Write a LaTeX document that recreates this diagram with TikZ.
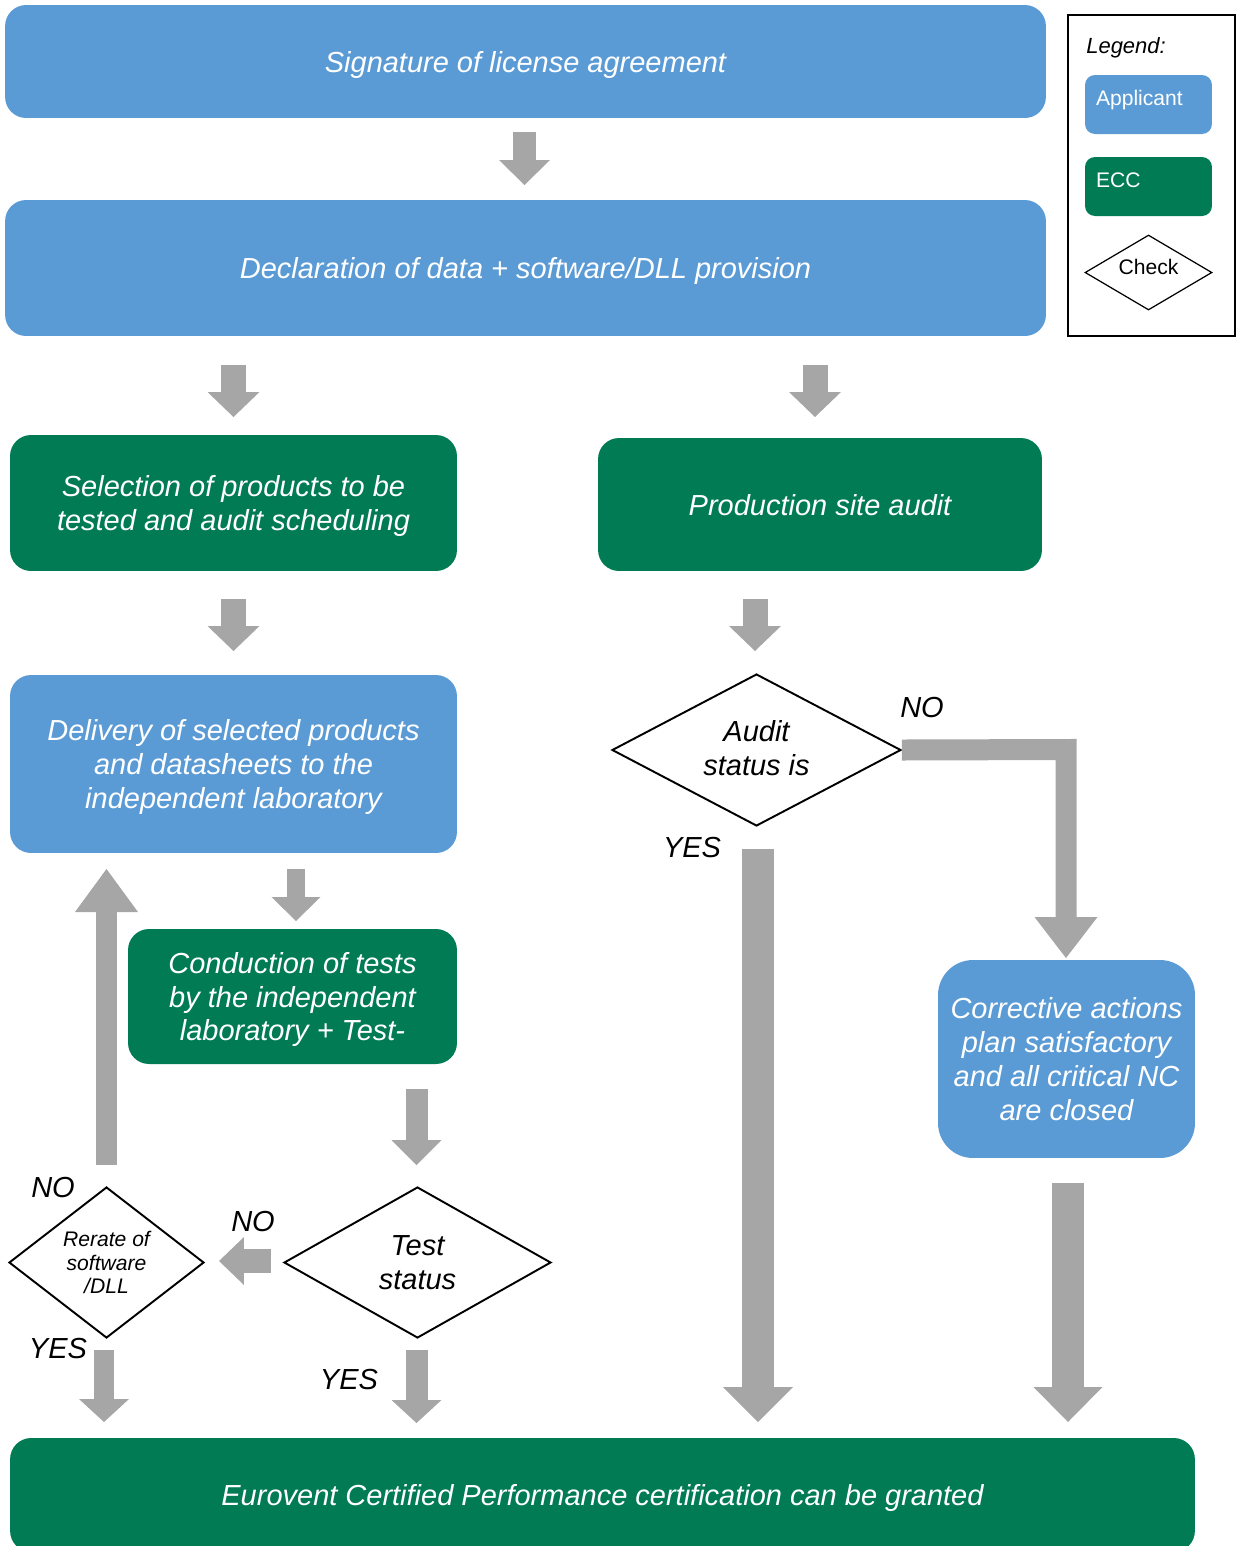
\documentclass[tikz,border=0pt]{standalone}
\usepackage{fontspec}
\setmainfont{Liberation Sans}
\usetikzlibrary{shapes.geometric,arrows.meta}
\definecolor{appblue}{RGB}{91,155,213}
\definecolor{eccgreen}{RGB}{0,123,84}
\definecolor{arrowgray}{RGB}{166,166,166}
\tikzset{
  mainfont/.style={font=\fontsize{16.5}{19.3}\selectfont\itshape},
  procbox/.style={rounded corners=0.42cm, inner sep=0pt, align=center, text=white, mainfont, text depth=0pt},
  appbox/.style={procbox, fill=appblue},
  eccbox/.style={procbox, fill=eccgreen},
  checkshape/.style={diamond, draw=black, line width=1.1pt, fill=white, inner sep=0pt, align=center, mainfont},
  answer/.style={inner sep=0pt, mainfont},
  legfont/.style={font=\fontsize{12}{14}\selectfont},
  legbox/.style={rounded corners=0.2cm, inner sep=0pt, inner xsep=0.22cm, text=white, legfont,
    minimum width=2.54cm, minimum height=1.18cm, text width=2.1cm, align=left, text height=0.32cm, text depth=0.3cm},
  blk/.style n args={3}{draw=arrowgray, line cap=butt, line join=miter, line width=#1,
    -{Triangle[width=#2, length=#3, line width=0pt]}},
}
\begin{document}
\begin{tikzpicture}[x=0.02cm, y=-0.02cm]
\path[use as bounding box, clip] (0,0) rectangle (1237,1546);

% process boxes
\node[appbox, minimum width=20.82cm, minimum height=2.26cm] (sig) at (525.5,61.5) {Signature of license agreement};
\node[appbox, minimum width=20.82cm, minimum height=2.72cm] (decl) at (525.5,268) {Declaration of data + software/DLL provision};
\node[eccbox, minimum width=8.94cm, minimum height=2.72cm] (sel) at (233.5,503) {Selection of products to be\\tested and audit scheduling};
\node[eccbox, minimum width=8.88cm, minimum height=2.66cm] (prod) at (820,504.5) {Production site audit};
\node[appbox, minimum width=8.94cm, minimum height=3.56cm] (deliv) at (233.5,764) {Delivery of selected products\\and datasheets to the\\independent laboratory};
\node[eccbox, minimum width=6.58cm, minimum height=2.7cm] (cond) at (292.5,996.5) {Conduction of tests\\by the independent\\laboratory + Test-};
\node[appbox, rounded corners=0.7cm, minimum width=5.14cm, minimum height=3.96cm] (corr) at (1066.5,1059) {Corrective actions\\plan satisfactory\\and all critical NC\\are closed};
\node[eccbox, minimum width=23.7cm, minimum height=2.28cm] (eur) at (602.5,1495) {Eurovent Certified Performance certification can be granted};

% checks
\node[checkshape, inner sep=-0.3cm, minimum width=5.78cm, minimum height=3.04cm, text depth=0.08cm] (audit) at (756.5,750) {Audit\\status is};
\node[checkshape, minimum width=5.34cm, minimum height=3.02cm] (test) at (417.5,1262.5) {Test\\status};
\node[checkshape, font=\fontsize{12}{13.6}\selectfont\itshape, minimum width=3.9cm, minimum height=3.02cm] (rerate) at (106.5,1262.5) {Rerate of\\software\\/DLL};

% answers
\node[answer] (noaudit) at (922,708) {NO};
\node[answer] (yesaudit) at (692,848) {YES};
\node[answer] (norerate) at (53,1188) {NO};
\node[answer] (notest) at (253,1222) {NO};
\node[answer] (yesrerate) at (58,1349) {YES};
\node[answer] (yestest) at (349,1380) {YES};

% block arrows
\coordinate (a1s) at (524.5,132); \coordinate (a1e) at (524.5,185);
\draw[blk={0.46cm}{1.02cm}{0.5cm}] (a1s) -- (a1e);
\coordinate (a2s) at (233.5,365); \coordinate (a2e) at (233.5,417);
\draw[blk={0.5cm}{1.04cm}{0.5cm}] (a2s) -- (a2e);
\coordinate (a3s) at (815,365); \coordinate (a3e) at (815,417);
\draw[blk={0.5cm}{1.04cm}{0.5cm}] (a3s) -- (a3e);
\coordinate (a4s) at (233.5,599); \coordinate (a4e) at (233.5,651);
\draw[blk={0.5cm}{1.04cm}{0.5cm}] (a4s) -- (a4e);
\coordinate (a5s) at (755,599); \coordinate (a5e) at (755,651);
\draw[blk={0.5cm}{1.04cm}{0.5cm}] (a5s) -- (a5e);
\coordinate (a6s) at (296,869); \coordinate (a6e) at (296,921);
\draw[blk={0.36cm}{0.98cm}{0.48cm}] (a6s) -- (a6e);
\coordinate (a7s) at (416.5,1089); \coordinate (a7e) at (416.5,1165);
\draw[blk={0.44cm}{1.0cm}{0.5cm}] (a7s) -- (a7e);
\coordinate (a8s) at (416.5,1350); \coordinate (a8e) at (416.5,1423);
\draw[blk={0.44cm}{1.0cm}{0.46cm}] (a8s) -- (a8e);
\coordinate (a9s) at (104,1350); \coordinate (a9e) at (104,1422);
\draw[blk={0.4cm}{1.0cm}{0.46cm}] (a9s) -- (a9e);
\coordinate (a10s) at (271,1261); \coordinate (a10e) at (219,1261);
\draw[blk={0.48cm}{0.96cm}{0.5cm}] (a10s) -- (a10e);
\coordinate (a11s) at (106.5,1165); \coordinate (a11e) at (106.5,869);
\draw[blk={0.44cm}{1.26cm}{0.86cm}] (a11s) -- (a11e);
\coordinate (a12s) at (758,849); \coordinate (a12e) at (758,1422);
\draw[blk={0.64cm}{1.4cm}{0.7cm}] (a12s) -- (a12e);
\coordinate (a13m) at (1066,749.5); \coordinate (a13e) at (1066,958);
\draw[blk={0.42cm}{1.26cm}{0.82cm}] (audit.east) -- (a13m) -- (a13e);
\coordinate (a14s) at (1068,1183); \coordinate (a14e) at (1068,1422);
\draw[blk={0.64cm}{1.38cm}{0.7cm}] (a14s) -- (a14e);

% legend
\node[draw=black, line width=0.7pt, minimum width=3.34cm, minimum height=6.42cm, inner sep=0pt] (legframe) at (1151.5,175.5) {};
\node[anchor=west, inner sep=0pt, legfont, font=\fontsize{12.5}{14}\selectfont\itshape] (legtitle) at (1086,48) {Legend:};
\node[legbox, fill=appblue] (legA) at (1148.5,104.5) {Applicant};
\node[legbox, fill=eccgreen] (legE) at (1148.5,186.5) {ECC};
\node[diamond, draw=black, line width=0.7pt, inner sep=-0.3cm, legfont, text depth=0.22cm, minimum width=2.54cm, minimum height=1.5cm] (legC) at (1148.5,272.5) {Check};
\end{tikzpicture}
\end{document}
